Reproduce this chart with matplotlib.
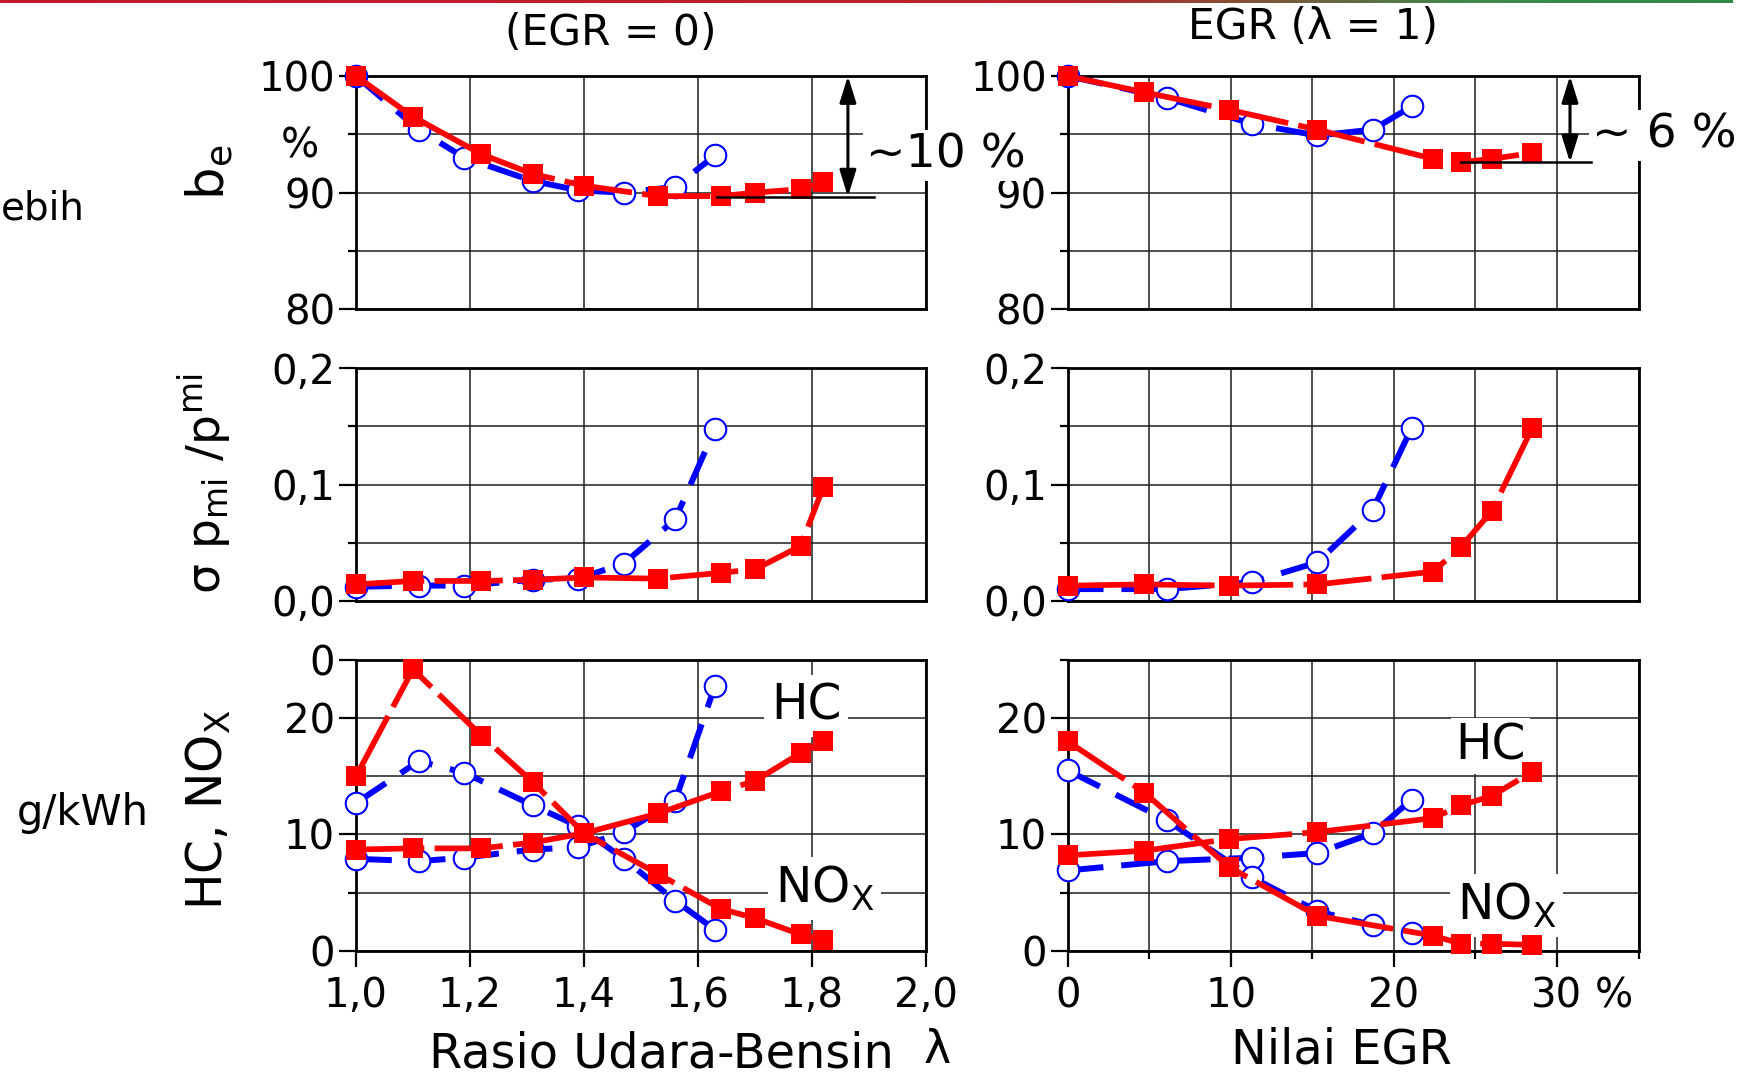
import numpy as np
import matplotlib
matplotlib.use("Agg")
import matplotlib.pyplot as plt
from matplotlib.colors import LinearSegmentedColormap

plt.rcParams["font.family"] = ["DejaVu Sans"]
plt.rcParams["mathtext.fontset"] = "dejavusans"

# ---------------- data ----------------
# lambda sweep (EGR = 0)
lam_a = [1.00, 1.11, 1.19, 1.31, 1.39, 1.47, 1.56, 1.63]
be_lam_a = [100.0, 95.4, 93.0, 91.0, 90.2, 90.0, 90.5, 93.2]
cov_lam_a = [0.012, 0.013, 0.013, 0.018, 0.019, 0.032, 0.070, 0.148]
hc_lam_a = [7.9, 7.7, 8.0, 8.7, 8.9, 10.2, 12.9, 22.8]
nox_lam_a = [12.7, 16.3, 15.3, 12.5, 10.7, 7.9, 4.3, 1.8]

lam_b = [1.00, 1.10, 1.22, 1.31, 1.40, 1.53, 1.64, 1.70, 1.78, 1.82]
be_lam_b = [100.0, 96.5, 93.3, 91.6, 90.6, 89.7, 89.7, 90.0, 90.3, 90.9]
cov_lam_b = [0.014, 0.017, 0.017, 0.018, 0.020, 0.019, 0.024, 0.027, 0.047, 0.098]
hc_lam_b = [8.7, 8.8, 8.8, 9.3, 10.1, 11.8, 13.7, 14.6, 17.0, 18.0]
nox_lam_b = [15.0, 24.2, 18.5, 14.5, 10.1, 6.6, 3.6, 2.8, 1.4, 0.9]

# EGR sweep (lambda = 1)
egr_a = [0.0, 6.1, 11.3, 15.3, 18.7, 21.1]
be_egr_a = [100.0, 98.1, 95.9, 94.9, 95.4, 97.4]
cov_egr_a = [0.010, 0.010, 0.016, 0.033, 0.078, 0.149]
hc_egr_a = [6.9, 7.7, 8.0, 8.4, 10.1, 13.0]
nox_egr_a = [15.5, 11.2, 6.3, 3.4, 2.2, 1.5]

egr_b = [0.0, 4.7, 9.9, 15.3, 22.4, 24.1, 26.0, 28.5]
be_egr_b = [100.0, 98.6, 97.1, 95.4, 92.9, 92.6, 92.9, 93.4]
cov_egr_b = [0.013, 0.014, 0.013, 0.014, 0.025, 0.046, 0.077, 0.149]
hc_egr_b = [8.2, 8.6, 9.6, 10.2, 11.4, 12.5, 13.3, 15.4]
nox_egr_b = [18.0, 13.6, 7.2, 3.0, 1.3, 0.6, 0.6, 0.5]

lam_ticks = [1.0, 1.2, 1.4, 1.6, 1.8, 2.0]
lam_ticklabels = ["1,0", "1,2", "1,4", "1,6", "1,8", "2,0"]
egr_ticks = [0, 10, 20, 30]
egr_ticklabels = ["0", "10", "20", "30"]

# ---------------- figure ----------------
W, H = 1762, 1078
fig = plt.figure(figsize=(W / 100, H / 100), dpi=100)


def fx(px):
    return px / W


def fy(py):
    return 1 - py / H


def make_axes(x0, x1, y0, y1):
    return fig.add_axes([fx(x0), fy(y1), fx(x1) - fx(x0), fy(y0) - fy(y1)])


BLUE = "#0000ff"
RED = "#ff0000"
TICK_FS = 29


def style(ax, xlim, ylim, xmaj, xmin_, ymaj, ymin_, ylabels, xlabels=None):
    ax.set_xlim(*xlim)
    ax.set_ylim(*ylim)
    ax.set_xticks(xmaj)
    ax.set_xticks(xmin_, minor=True)
    ax.set_yticks(ymaj)
    ax.set_yticks(ymin_, minor=True)
    ax.set_yticklabels(ylabels)
    ax.grid(True, which="both", color="#1e1e1e", lw=1.1)
    ax.set_axisbelow(True)
    ax.tick_params(axis="y", which="major", direction="out", length=12,
                   width=1.6, labelsize=TICK_FS, pad=3)
    ax.tick_params(axis="y", which="minor", direction="out", length=6, width=1.6)
    if xlabels is None:
        ax.tick_params(axis="x", which="both", length=0, labelbottom=False)
    else:
        ax.set_xticklabels(xlabels)
        ax.tick_params(axis="x", which="major", direction="out", length=11.5,
                       width=1.6, labelsize=TICK_FS, pad=7)
        ax.tick_params(axis="x", which="minor", direction="out", length=6,
                       width=1.6)
    for s in ax.spines.values():
        s.set_linewidth(2.0)
        s.set_color("black")


def plot_a(ax, x, y):
    ax.plot(x, y, color=BLUE, lw=4.3, ls=(0, (6, 3)), marker="o",
            ms=15.5, mfc="white", mec=BLUE, mew=1.5, zorder=4, clip_on=False)


def plot_b(ax, x, y):
    ax.plot(x, y, color=RED, lw=4.1, ls=(0, (12, 1.8)), marker="s",
            ms=14.8, mfc=RED, mec=RED, mew=0, zorder=5, clip_on=False)


LX0, LX1 = 356, 926
RX0, RX1 = 1067.7, 1638.5
ROWS = [(76, 309.3), (368.3, 600.7), (660, 950.7)]

ax_be_l = make_axes(LX0, LX1, *ROWS[0])
ax_be_r = make_axes(RX0, RX1, *ROWS[0])
ax_cv_l = make_axes(LX0, LX1, *ROWS[1])
ax_cv_r = make_axes(RX0, RX1, *ROWS[1])
ax_em_l = make_axes(LX0, LX1, *ROWS[2])
ax_em_r = make_axes(RX0, RX1, *ROWS[2])

# fuel consumption
style(ax_be_l, (1.0, 2.0), (80, 100), lam_ticks, [], [80, 90, 100], [85, 95],
      ["80", "90", "100"])
style(ax_be_r, (0, 35), (80, 100), egr_ticks, [5, 15, 25, 35], [80, 90, 100],
      [85, 95], ["80", "90", "100"])
plot_a(ax_be_l, lam_a, be_lam_a)
plot_b(ax_be_l, lam_b, be_lam_b)
plot_a(ax_be_r, egr_a, be_egr_a)
plot_b(ax_be_r, egr_b, be_egr_b)

# cyclic variation
style(ax_cv_l, (1.0, 2.0), (0, 0.2), lam_ticks, [], [0, 0.1, 0.2], [0.05, 0.15],
      ["0,0", "0,1", "0,2"])
style(ax_cv_r, (0, 35), (0, 0.2), egr_ticks, [5, 15, 25, 35], [0, 0.1, 0.2],
      [0.05, 0.15], ["0,0", "0,1", "0,2"])
plot_a(ax_cv_l, lam_a, cov_lam_a)
plot_b(ax_cv_l, lam_b, cov_lam_b)
plot_a(ax_cv_r, egr_a, cov_egr_a)
plot_b(ax_cv_r, egr_b, cov_egr_b)

# emissions
style(ax_em_l, (1.0, 2.0), (0, 25), lam_ticks, [], [0, 10, 20, 25], [5, 15],
      ["0", "10", "20", "0"], lam_ticklabels)
style(ax_em_r, (0, 35), (0, 25), egr_ticks, [5, 15, 25, 35], [0, 10, 20],
      [5, 15, 25], ["0", "10", "20"], egr_ticklabels)
plot_a(ax_em_l, lam_a, hc_lam_a)
plot_a(ax_em_l, lam_a, nox_lam_a)
plot_b(ax_em_l, lam_b, hc_lam_b)
plot_b(ax_em_l, lam_b, nox_lam_b)
plot_a(ax_em_r, egr_a, hc_egr_a)
plot_a(ax_em_r, egr_a, nox_egr_a)
plot_b(ax_em_r, egr_b, hc_egr_b)
plot_b(ax_em_r, egr_b, nox_egr_b)

ax_em_r.annotate("%", xy=(30, 0), xycoords=("data", "axes fraction"),
                 xytext=(27.5, -18.5), textcoords="offset points",
                 ha="left", va="top", fontsize=TICK_FS)

# fuel-saving markers
arrow_kw = dict(arrowstyle="<|-|>,head_length=0.8,head_width=0.25",
                color="black", lw=2.2, mutation_scale=20,
                shrinkA=0, shrinkB=0)
ax_be_l.annotate("", xy=(1.863, 100), xytext=(1.863, 89.66), arrowprops=arrow_kw,
                 zorder=6)
ax_be_l.plot([1.633, 1.909], [89.66, 89.66], color="black", lw=1.8, zorder=6)
ax_be_r.annotate("", xy=(30.8, 100), xytext=(30.8, 92.6), arrowprops=arrow_kw,
                 zorder=6)
ax_be_r.plot([24.1, 32.1], [92.6, 92.6], color="black", lw=1.8, zorder=6,
             clip_on=False)

box = dict(fc="white", ec="none", pad=2)
fig.text(fx(866), fy(168), "~10 %", fontsize=34, ha="left", va="baseline",
         bbox=box, zorder=10)
fig.text(fx(1592), fy(148), "~ 6 %", fontsize=34, ha="left", va="baseline",
         bbox=box, zorder=10)

# curve labels (x in data units, y in axes fraction)
lbox = dict(fc="white", ec="none", pad=5)
nox_txt = r"NO$_{\mathregular{X}}$"
ax_em_l.text(1.0 + (771 - LX0) / 570, 1 - (720 - 660) / 290.7, "HC",
             fontsize=35, ha="left", va="baseline", bbox=lbox, zorder=3,
             transform=ax_em_l.get_xaxis_transform())
ax_em_l.text(1.0 + (775 - LX0) / 570, 1 - (903 - 660) / 290.7, nox_txt,
             fontsize=35, ha="left", va="baseline", bbox=lbox, zorder=3,
             transform=ax_em_l.get_xaxis_transform())
ax_em_r.text((1455 - RX0) / 570.8 * 35, 1 - (760 - 660) / 290.7, "HC",
             fontsize=35, ha="left", va="baseline",
             bbox=dict(fc="white", ec="none", pad=3), zorder=3,
             transform=ax_em_r.get_xaxis_transform())
ax_em_r.text((1457 - RX0) / 570.8 * 35, 1 - (920 - 660) / 290.7, nox_txt,
             fontsize=35, ha="left", va="baseline", bbox=lbox, zorder=3,
             transform=ax_em_r.get_xaxis_transform())

# titles and axis labels
fig.text(fx(611), fy(45), "(EGR = 0)", fontsize=30.5, ha="center", va="baseline")
fig.text(fx(1313), fy(39), "EGR (λ = 1)", fontsize=30.5, ha="center",
         va="baseline")
fig.text(fx(661), fy(1068), "Rasio Udara-Bensin", fontsize=34.5, ha="center",
         va="baseline")
fig.text(fx(937), fy(1063), "λ", fontsize=33, ha="center", va="baseline")
fig.text(fx(1341), fy(1063), "Nilai EGR", fontsize=34.5, ha="center",
         va="baseline")

fig.text(fx(209), fy(172), r"$\mathregular{b_e}$", fontsize=37, rotation=90,
         ha="center", va="center")
fig.text(fx(300), fy(146), "%", fontsize=TICK_FS, ha="center", va="center")
fig.text(fx(205), fy(484), r"$\mathregular{σ\ p_{mi}\ /p^{mi}}$", fontsize=34,
         rotation=90, ha="center", va="center")
fig.text(fx(208), fy(810), r"HC, NO$_{\mathregular{X}}$", fontsize=35,
         rotation=90, ha="center", va="center")
fig.text(fx(17), fy(825), "g/kWh", fontsize=30, ha="left", va="baseline")
fig.text(fx(1), fy(220), "ebih", fontsize=28, ha="left", va="baseline")

# thin coloured rule along the top edge
band = fig.add_axes([0, fy(3), fx(1733), 3 / H])
band.axis("off")
cmap = LinearSegmentedColormap.from_list(
    "rule", [(0.0, "#c8172c"), (0.62, "#b8242a"), (0.85, "#3f8a4a"), (1.0, "#2f8a46")])
band.imshow(np.linspace(0, 1, 400)[None, :], aspect="auto", cmap=cmap,
            extent=[0, 1, 0, 1])

fig.savefig("out.png", dpi=100)
